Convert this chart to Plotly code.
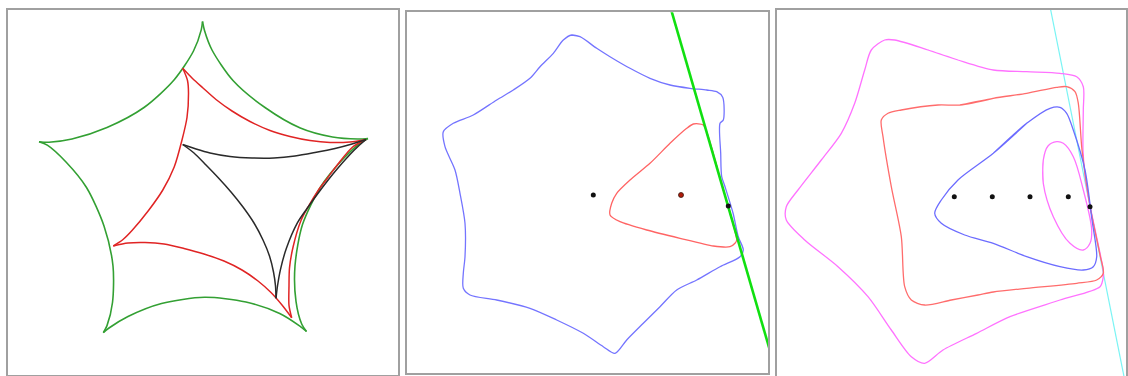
import plotly.graph_objects as go

# ---------------- Panel 1: hypocycloids with 5, 4 and 3 cusps ----------------
# each curve is stored arc by arc (cusp to cusp) so the cusps stay sharp
green_arcs = [
    [(168, 51.5), (157.7, 51), (132.5, 53), (100.3, 62), (65, 82.5), (33, 109.5),
     (12, 140), (4.5, 159.5), (2.5, 168.5)],
    [(2.5, 168.5), (1.3, 160.4), (-6.5, 139), (-26, 110), (-56, 82.5), (-93, 62.5),
     (-128, 51), (-151, 47.8), (-161, 48.3)],
    [(-161, 48.3), (-152.7, 44.9), (-134, 28), (-113.5, 2.5), (-96, -36), (-87, -76),
     (-87.5, -112.5), (-93, -135.6), (-96.7, -142.7)],
    [(-96.7, -142.7), (-91, -138), (-72, -126.5), (-38.5, -113.5), (4.4, -107.3),
     (46, -112), (79.7, -123.5), (99.5, -135.9), (106.5, -141.5)],
    [(106.5, -141.5), (101.8, -134.3), (96, -111.4), (95, -75.8), (102.5, -34.5),
     (121, 3.8), (144, 32), (161, 47.5), (168, 51.5)],
]
red_arcs = [
    [(166, 50.5), (150, 48), (130, 47.5), (110, 49.5), (90, 53.5), (70, 59.5), (50, 68.5),
     (32, 79), (16, 90.5), (3, 102), (-7.5, 111.5), (-17.3, 121.7)],
    [(-17.3, 121.7), (-12.5, 109.5), (-11.5, 96.7), (-13, 72.5), (-18, 50), (-25.8, 23),
     (-37.2, 0), (-51.5, -20.5), (-68, -40.5), (-77, -49.5), (-86.7, -56)],
    [(-86.7, -56), (-72, -53), (-55, -52.5), (-36, -54), (-16, -58.5), (4, -64), (24, -71),
     (42, -80), (58, -91), (71, -102.5), (82, -115), (91.7, -127.7)],
    [(91.7, -127.7), (89, -115.3), (89, -96), (89.5, -77.8), (93.3, -56), (101, -30.5),
     (108.3, -16.5), (118.5, 0), (127.5, 12), (138, 26), (152.6, 43), (166, 50.5)],
]
black_arcs = [
    [(166, 50.5), (152, 46), (135, 41.5), (115, 37.5), (95, 34), (74, 32), (52, 32),
     (30, 33.5), (10, 37), (-4, 41), (-17.3, 45.5)],
    [(-17.3, 45.5), (-6, 37), (6, 25), (18.5, 12), (31, -2), (43, -17), (54, -33),
     (63, -50), (69.5, -66), (73.5, -82), (75.5, -96), (76, -108.3)],
    [(76, -108.3), (77.5, -96), (80.5, -79.3), (86.5, -58), (97.5, -32.7), (106.7, -19),
     (120.5, 0), (135, 18.5), (150, 35.5), (158, 43.5), (166, 50.5)],
]

# ---------------- Panel 2: level curve, triangle, tangent line ----------------
p2_blue = [(-18.3, 155), (-10, 153.3), (6.7, 141.7), (20, 133.3), (40, 121.7), (60, 111.7),
           (80, 105), (100, 101.7), (116.7, 100), (126.7, 98.3), (132.7, 92.7), (133.3, 70),
           (130, 66.7), (130.7, 36.7), (131.7, 13.3), (135, 3.3), (143, -23), (148.3, -46.7),
           (153.3, -60), (150, -66.7), (130, -76.7), (106.7, -90), (86.7, -100), (70, -116.7),
           (53.3, -133.3), (36.7, -150), (25, -163.3), (13.3, -156.7), (-6.7, -143.3),
           (-33.3, -130), (-60, -118.3), (-93.3, -110), (-120, -105), (-126.7, -98.3),
           (-126.7, -83.3), (-125, -66.7), (-125, -33.3), (-130, -3.3), (-135, 20),
           (-145, 43.3), (-146.7, 58.3), (-136.7, 66.7), (-116.7, 75), (-93.3, 90),
           (-76.7, 100), (-60, 111.7), (-50, 123.3), (-36.7, 136.7), (-26.7, 150),
           (-18.3, 155), (-10, 153.3)]
p2_red = [(131, 8), (146.7, -50), (145, -53.3), (140, -56.7), (123.3, -56), (90, -48.3),
          (56.7, -40), (30, -31.7), (20, -25), (21.7, -13.3), (26.7, -3.3), (40, 10),
          (60, 26.7), (80, 46.7), (96.7, 61.7), (103.3, 66), (113.3, 65), (131, 8)]
p2_line_x = [80, 182]
p2_line_y = [184.2, -167.7]
p2_dots_x = [3.3, 138.3]
p2_dots_y = [-5, -16]
p2_red_dot = (91, -5)

# ---------------- Panel 3: nested level curves, tangent line ----------------
p3_magenta_outer = [(-22, 140), (8, 130), (43.3, 120), (76.7, 118.3), (110, 116.7),
                    (126.7, 113.3), (133.3, 103.3), (133.3, 80), (133, 40), (135, 15),
                    (138.9, -10), (153.2, -80), (153.3, -86.7), (150, -96.7), (110, -110),
                    (60, -126.7), (26.7, -143.3), (-7, -160), (-25.3, -173.3), (-38.7, -166.7),
                    (-58.7, -140), (-82, -106.7), (-112, -76.7), (-145.3, -50), (-163.7, -30),
                    (-163.7, -16.7), (-152, 0), (-128.7, 30), (-108.7, 56.7), (-95.3, 86.7),
                    (-85.3, 120), (-78.7, 140), (-65.3, 150), (-55.3, 150), (-22, 140), (8, 130)]
p3_red = [(10, 85), (43.3, 91.7), (76.7, 96.7), (106.7, 102.7), (116.7, 103.3), (125, 98.3),
          (128.3, 86.7), (132, 40), (140, -16), (150, -65), (153.3, -83.3), (146.7, -90),
          (126.7, -93.3), (76.7, -98.3), (43.3, -102), (28, -105), (1.3, -110), (-25.3, -115),
          (-38.7, -110), (-45.3, -96.7), (-48.7, -46.7), (-58.7, 3.3), (-67, 53.3),
          (-68.7, 70), (-62, 76.7), (-48.7, 80), (-12, 85), (10, 85), (43.3, 91.7)]
p3_blue = [(43.3, 36.7), (76.7, 66.7), (100, 81.7), (110, 82.7), (116.7, 76.7), (123.3, 60),
           (135, 20), (142, -30), (146.7, -66.7), (143.3, -76.7), (133.3, -80), (110, -76.7),
           (76.7, -66.7), (43.3, -53.3), (14.7, -45), (-8.7, -33.3), (-15.3, -23.3),
           (-8.7, -10), (8, 10), (43.3, 36.7), (76.7, 66.7)]
p3_magenta_inner = [(93.3, 6.7), (93.3, 30), (98, 44), (106.7, 48.3), (113.3, 46.7),
                    (123.3, 33.3), (133.3, 0), (141.7, -40), (140, -53.3), (133.3, -60),
                    (120, -53.3), (103.3, -26.7), (93.3, 6.7), (93.3, 30)]
p3_line_x = [99.7, 175.7]
p3_line_y = [185, -195]
p3_dots_x = [4.3, 42.3, 80, 118.3, 140]
p3_dots_y = [-6.7, -6.7, -6.7, -6.7, -16.7]

# ---------------- layout geometry (pixels of the 1128x376 canvas) ----------------
W, H = 1128, 376
panels = [
    # left, right, top, bottom (px), and the local origin of the panel (px)
    dict(l=7.5, r=397.5, t=9.5, b=374.5, ox=200, oy=190, bottom_line=True),
    dict(l=406.5, r=768, t=12.3, b=373.3, ox=590, oy=190, bottom_line=True),
    dict(l=777, r=1126, t=9.5, b=376, ox=950, oy=190, bottom_line=False),
]

fig = go.Figure()


def xy(points):
    return [p[0] for p in points], [p[1] for p in points]


def arcs_trace(arcs, color, width, ax):
    xs, ys = [], []
    for arc in arcs:
        ax_, ay_ = xy(arc)
        xs += ax_ + [None]
        ys += ay_ + [None]
    fig.add_trace(go.Scatter(x=xs, y=ys, mode="lines", xaxis="x" + ax, yaxis="y" + ax,
                             line=dict(color=color, width=width, shape="spline", smoothing=0.8),
                             connectgaps=False, hoverinfo="skip"))


def curve_trace(points, color, width, ax, smoothing=1.0):
    xs, ys = xy(points)
    fig.add_trace(go.Scatter(x=xs, y=ys, mode="lines", xaxis="x" + ax, yaxis="y" + ax,
                             line=dict(color=color, width=width, shape="spline",
                                       smoothing=smoothing),
                             hoverinfo="skip"))


# panel 1
arcs_trace(green_arcs, "#33a033", 1.6, "")
arcs_trace(red_arcs, "#e02424", 1.5, "")
arcs_trace(black_arcs, "#2a2a2a", 1.5, "")

# panel 2
curve_trace(p2_blue, "#7474ff", 1.3, "2", smoothing=0.8)
curve_trace(p2_red, "#ff6464", 1.3, "2", smoothing=0.6)
fig.add_trace(go.Scatter(x=p2_line_x, y=p2_line_y, mode="lines", xaxis="x2", yaxis="y2",
                         line=dict(color="#10e010", width=2.6), hoverinfo="skip"))
fig.add_trace(go.Scatter(x=p2_dots_x, y=p2_dots_y, mode="markers", xaxis="x2", yaxis="y2",
                         marker=dict(color="#111111", size=5), hoverinfo="skip"))
fig.add_trace(go.Scatter(x=[p2_red_dot[0]], y=[p2_red_dot[1]], mode="markers",
                         xaxis="x2", yaxis="y2",
                         marker=dict(color="#b01a0a", size=5,
                                     line=dict(color="#3a1a10", width=0.8)),
                         hoverinfo="skip"))

# panel 3
fig.add_trace(go.Scatter(x=p3_line_x, y=p3_line_y, mode="lines", xaxis="x3", yaxis="y3",
                         line=dict(color="#7af4f4", width=1.2), hoverinfo="skip"))
curve_trace(p3_magenta_outer, "#ff72ff", 1.3, "3", smoothing=0.8)
curve_trace(p3_red, "#ff6c6c", 1.3, "3", smoothing=0.8)
curve_trace(p3_blue, "#6c6cff", 1.3, "3", smoothing=0.8)
curve_trace(p3_magenta_inner, "#ff72ff", 1.3, "3", smoothing=1.0)
fig.add_trace(go.Scatter(x=p3_dots_x, y=p3_dots_y, mode="markers", xaxis="x3", yaxis="y3",
                         marker=dict(color="#111111", size=5), hoverinfo="skip"))

frame = dict(showgrid=False, zeroline=False, showticklabels=False, ticks="",
             showline=True, linecolor="#a0a0a0", linewidth=2, fixedrange=True)

layout = dict(width=W, height=H, margin=dict(l=0, r=0, t=0, b=0),
              paper_bgcolor="white", plot_bgcolor="white", showlegend=False)

for i, p in enumerate(panels):
    suffix = "" if i == 0 else str(i + 1)
    xr = [p["l"] - p["ox"], p["r"] - p["ox"]]
    yr = [p["oy"] - p["b"], p["oy"] - p["t"]]
    xa = dict(frame, domain=[p["l"] / W, p["r"] / W], range=xr,
              anchor="y" + suffix)
    ya = dict(frame, domain=[1 - p["b"] / H, 1 - p["t"] / H], range=yr,
              anchor="x" + suffix, mirror=True)
    if p["bottom_line"]:
        xa["mirror"] = True
    else:
        xa["side"] = "top"
    layout["xaxis" + suffix] = xa
    layout["yaxis" + suffix] = ya

fig.update_layout(**layout)
fig.write_html("out.html", config=dict(displayModeBar=False, staticPlot=True))
